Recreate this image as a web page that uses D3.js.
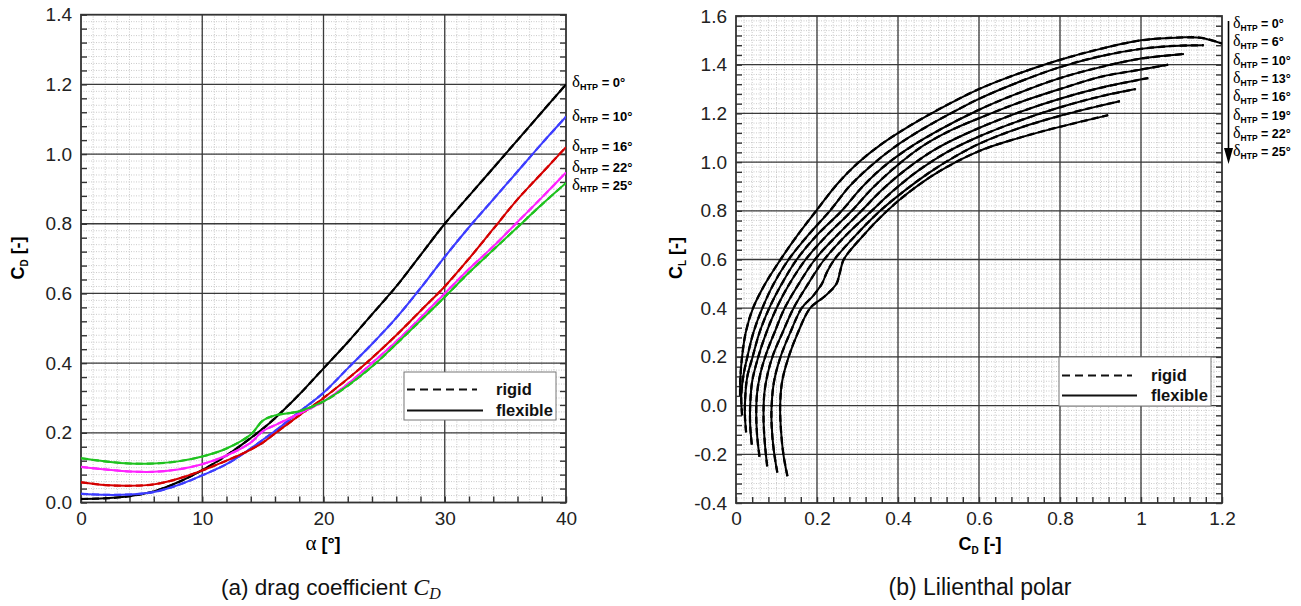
<!DOCTYPE html>
<html>
<head>
<meta charset="utf-8">
<script src="https://cdn.jsdelivr.net/npm/d3@7"></script>
<style>
body { margin: 0; background: #fff; }
svg { font-family: "Liberation Sans", Arial, sans-serif; }
</style>
</head>
<body>
<script>
// ---- data: (a) drag coefficient vs angle of attack ----
const alphaDeg = [0, 2, 4, 6, 8, 10, 12, 14, 15, 16, 18, 20, 22, 24, 26, 28, 30, 32, 34, 36, 38, 40];
const cdDelta0  = [0.010, 0.012, 0.018, 0.032, 0.058, 0.093, 0.135, 0.185, 0.212, 0.242, 0.310, 0.385, 0.460, 0.540, 0.620, 0.710, 0.800, 0.880, 0.960, 1.040, 1.120, 1.200];
const cdDelta10 = [0.025, 0.022, 0.023, 0.030, 0.050, 0.078, 0.110, 0.155, 0.180, 0.205, 0.260, 0.315, 0.385, 0.455, 0.530, 0.615, 0.705, 0.790, 0.870, 0.950, 1.030, 1.107];
const cdDelta16 = [0.058, 0.050, 0.048, 0.052, 0.068, 0.092, 0.120, 0.152, 0.172, 0.198, 0.250, 0.300, 0.355, 0.415, 0.480, 0.550, 0.620, 0.700, 0.785, 0.870, 0.945, 1.020];
const cdDelta22 = [0.102, 0.095, 0.089, 0.088, 0.095, 0.110, 0.135, 0.172, 0.205, 0.222, 0.255, 0.290, 0.340, 0.400, 0.462, 0.530, 0.600, 0.670, 0.735, 0.805, 0.875, 0.947];
const cdDelta25 = [0.127, 0.118, 0.112, 0.112, 0.118, 0.132, 0.155, 0.195, 0.235, 0.250, 0.262, 0.290, 0.335, 0.390, 0.455, 0.522, 0.590, 0.660, 0.725, 0.790, 0.855, 0.917];
const dragLabels = ['0°', '10°', '16°', '22°', '25°'];
const dragColors = ['#000000', '#3d3dff', '#d40000', '#ff22ff', '#1fc21f'];

// ---- data: (b) Lilienthal polar, [CD, CL] ----
const polar0  = [[0.010,0.04],[0.011,0.12],[0.015,0.20],[0.024,0.30],[0.042,0.40],[0.072,0.50],[0.110,0.60],[0.152,0.70],[0.198,0.80],[0.250,0.91],[0.300,0.995],[0.360,1.075],[0.430,1.15],[0.510,1.225],[0.600,1.30],[0.700,1.365],[0.800,1.42],[0.900,1.465],[1.000,1.50],[1.100,1.512],[1.150,1.51],[1.200,1.487]];
const polar6  = [[0.015,-0.04],[0.013,0.04],[0.018,0.12],[0.028,0.20],[0.043,0.30],[0.065,0.40],[0.093,0.50],[0.130,0.60],[0.178,0.70],[0.232,0.80],[0.280,0.90],[0.330,0.98],[0.390,1.06],[0.460,1.135],[0.530,1.20],[0.600,1.26],[0.700,1.33],[0.800,1.39],[0.900,1.435],[1.000,1.465],[1.080,1.477],[1.155,1.48]];
const polar10 = [[0.025,-0.11],[0.022,-0.04],[0.023,0.04],[0.028,0.12],[0.041,0.20],[0.058,0.30],[0.082,0.40],[0.113,0.50],[0.150,0.60],[0.200,0.70],[0.261,0.80],[0.310,0.895],[0.360,0.975],[0.420,1.05],[0.500,1.13],[0.600,1.215],[0.700,1.285],[0.800,1.345],[0.900,1.39],[1.000,1.425],[1.106,1.444]];
const polar13 = [[0.039,-0.16],[0.035,-0.08],[0.035,0.00],[0.040,0.10],[0.055,0.20],[0.075,0.30],[0.100,0.40],[0.132,0.50],[0.172,0.60],[0.225,0.70],[0.286,0.80],[0.335,0.89],[0.390,0.975],[0.460,1.065],[0.530,1.13],[0.600,1.18],[0.700,1.245],[0.800,1.30],[0.900,1.35],[1.000,1.38],[1.067,1.40]];
const polar16 = [[0.058,-0.21],[0.052,-0.12],[0.050,-0.03],[0.052,0.05],[0.060,0.13],[0.074,0.21],[0.095,0.30],[0.120,0.40],[0.155,0.50],[0.195,0.60],[0.250,0.70],[0.310,0.80],[0.360,0.885],[0.420,0.97],[0.500,1.06],[0.600,1.14],[0.700,1.205],[0.800,1.26],[0.900,1.305],[1.018,1.345]];
const polar19 = [[0.077,-0.25],[0.071,-0.15],[0.068,-0.05],[0.070,0.05],[0.078,0.13],[0.092,0.21],[0.115,0.30],[0.142,0.40],[0.178,0.50],[0.218,0.60],[0.272,0.70],[0.335,0.80],[0.390,0.885],[0.450,0.965],[0.520,1.04],[0.600,1.105],[0.700,1.17],[0.800,1.225],[0.900,1.27],[0.987,1.30]];
const polar22 = [[0.102,-0.275],[0.093,-0.18],[0.088,-0.08],[0.088,0.00],[0.094,0.10],[0.110,0.20],[0.134,0.30],[0.162,0.40],[0.190,0.45],[0.212,0.50],[0.225,0.55],[0.243,0.60],[0.296,0.70],[0.356,0.80],[0.418,0.885],[0.480,0.96],[0.540,1.022],[0.600,1.075],[0.700,1.14],[0.800,1.19],[0.900,1.232],[0.948,1.25]];
const polar25 = [[0.127,-0.29],[0.117,-0.20],[0.111,-0.10],[0.109,0.00],[0.114,0.10],[0.130,0.20],[0.153,0.30],[0.183,0.40],[0.220,0.45],[0.248,0.50],[0.257,0.55],[0.266,0.60],[0.315,0.70],[0.370,0.795],[0.430,0.88],[0.500,0.96],[0.600,1.045],[0.700,1.10],[0.800,1.145],[0.919,1.193]];
const polarLabels = ['0°', '6°', '10°', '13°', '16°', '19°', '22°', '25°'];
const legendItems = ['rigid', 'flexible'];

const svg = d3.select('body').append('svg').attr('width', 1301).attr('height', 606);

// Draws grid, frame, inward ticks and tick labels of one panel
function drawFrame(x, y, o) {
    let g = svg.append('g');
    let [x0, x1] = x.range(), [y0, y1] = y.range();

    // fine dotted grid
    g.selectAll('.vmin').data(o.xMinor).enter().append('line')
        .attr('x1', d => x(d)).attr('x2', d => x(d)).attr('y1', y0).attr('y2', y1)
        .attr('stroke', '#bdbdbd').attr('stroke-width', 0.8).attr('stroke-dasharray', '1,1.5');
    g.selectAll('.hmin').data(o.yMinor).enter().append('line')
        .attr('y1', d => y(d)).attr('y2', d => y(d)).attr('x1', x0).attr('x2', x1)
        .attr('stroke', '#bdbdbd').attr('stroke-width', 0.8).attr('stroke-dasharray', '1,1.5');

    // major grid
    g.selectAll('.vmaj').data(o.xMajor).enter().append('line')
        .attr('x1', d => x(d)).attr('x2', d => x(d)).attr('y1', y0).attr('y2', y1)
        .attr('stroke', '#3a3a3a').attr('stroke-width', 1.3);
    g.selectAll('.hmaj').data(o.yMajor).enter().append('line')
        .attr('y1', d => y(d)).attr('y2', d => y(d)).attr('x1', x0).attr('x2', x1)
        .attr('stroke', '#3a3a3a').attr('stroke-width', 1.3);

    // inward ticks on bottom, left and right
    g.append('g').attr('transform', `translate(0, ${y0})`)
        .call(d3.axisBottom(x).tickValues(o.xTicks).tickSize(-6).tickFormat(''))
        .call(a => a.select('.domain').remove())
        .selectAll('line').attr('stroke', '#333').attr('stroke-width', 1.4);
    g.append('g').attr('transform', `translate(${x0}, 0)`)
        .call(d3.axisLeft(y).tickValues(o.yTicks).tickSize(-6).tickFormat(''))
        .call(a => a.select('.domain').remove())
        .selectAll('line').attr('stroke', '#333').attr('stroke-width', 1.4);
    g.append('g').attr('transform', `translate(${x1}, 0)`)
        .call(d3.axisRight(y).tickValues(o.yTicks).tickSize(-6).tickFormat(''))
        .call(a => a.select('.domain').remove())
        .selectAll('line').attr('stroke', '#333').attr('stroke-width', 1.4);

    // frame
    g.append('rect').attr('x', x0).attr('y', y1).attr('width', x1 - x0).attr('height', y0 - y1)
        .attr('fill', 'none').attr('stroke', '#333').attr('stroke-width', 1.8);

    // tick labels
    let xl = g.append('g').attr('transform', `translate(0, ${y0})`)
        .call(d3.axisBottom(x).tickValues(o.xMajorLabels).tickSize(0).tickPadding(9).tickFormat(o.xFormat));
    let yl = g.append('g').attr('transform', `translate(${x0}, 0)`)
        .call(d3.axisLeft(y).tickValues(o.yMajorLabels).tickSize(0).tickPadding(9).tickFormat(o.yFormat));
    [xl, yl].forEach(a => {
        a.select('.domain').remove();
        a.selectAll('text').attr('font-size', 19).attr('fill', '#222').attr('font-family', '"Liberation Sans", Arial, sans-serif');
    });
    return g;
}

function stepRange(a, b, n) {
    return d3.range(Math.round(a * n), Math.round(b * n) + 1).map(i => i / n);
}

// ---------- panel (a) ----------
let xA = d3.scaleLinear().domain([0, 40]).range([81, 566]);
let yA = d3.scaleLinear().domain([0, 1.4]).range([502.5, 14.7]);

drawFrame(xA, yA, {
    xMinor: d3.range(0, 41, 1), yMinor: stepRange(0, 1.4, 50),
    xMajor: [10, 20, 30], yMajor: [0.2, 0.4, 0.6, 0.8, 1.0, 1.2],
    xTicks: d3.range(0, 41, 2), yTicks: stepRange(0, 1.4, 25),
    xMajorLabels: [0, 10, 20, 30, 40], yMajorLabels: stepRange(0, 1.4, 5),
    xFormat: d3.format('d'), yFormat: d => d.toFixed(1)
});

svg.append('clipPath').attr('id', 'clipA').append('rect')
    .attr('x', 81).attr('y', 14.7).attr('width', 485).attr('height', 487.8);
svg.append('clipPath').attr('id', 'clipB').append('rect')
    .attr('x', 736).attr('y', 16).attr('width', 486).attr('height', 487);

let dragSeries = [cdDelta0, cdDelta10, cdDelta16, cdDelta22, cdDelta25];
let lineA = d3.line().x((d, i) => xA(alphaDeg[i])).y(d => yA(d)).curve(d3.curveCatmullRom.alpha(0.5));
let curvesA = svg.append('g').attr('clip-path', 'url(#clipA)');
dragSeries.forEach((s, k) => {
    curvesA.append('path').attr('d', lineA(s)).attr('fill', 'none')
        .attr('stroke', dragColors[k]).attr('stroke-width', 2);
    curvesA.append('path').attr('d', lineA(s)).attr('fill', 'none')
        .attr('stroke', dragColors[k]).attr('stroke-width', 2.2).attr('stroke-dasharray', '7,4');
});

// delta labels on the right of panel (a)
let nudgeA = [-1, 0, 0, -5, 3];
dragSeries.forEach((s, k) => {
    let t = svg.append('text').attr('x', 572).attr('y', yA(s[s.length - 1]) + 4 + nudgeA[k]);
    t.append('tspan').text('δ').attr('font-family', '"Liberation Serif", "DejaVu Serif", serif').attr('font-size', 17);
    t.append('tspan').text('HTP').attr('font-size', 9).attr('font-weight', 'bold').attr('dy', 2.5);
    t.append('tspan').text(' = ' + dragLabels[k]).attr('font-size', 13).attr('font-weight', 'bold').attr('dy', -2.5);
});

// axis titles (a)
let ta = svg.append('text').attr('transform', 'translate(24, 258) rotate(-90)')
    .attr('text-anchor', 'middle').attr('font-weight', 'bold').attr('font-size', 18);
ta.append('tspan').text('C');
ta.append('tspan').text('D').attr('font-size', 10).attr('dy', 4);
ta.append('tspan').text(' [-]').attr('dy', -4);

let xa = svg.append('text').attr('x', 323).attr('y', 550).attr('text-anchor', 'middle');
xa.append('tspan').text('α').attr('font-family', '"Liberation Serif", "DejaVu Serif", serif').attr('font-size', 21);
xa.append('tspan').text(' [°]').attr('font-weight', 'bold').attr('font-size', 18);

// legend box with rigid / flexible line styles
function drawLegend(bx, by, bw, bh, lx0, lx1, tx, rows) {
    svg.append('rect').attr('x', bx).attr('y', by).attr('width', bw).attr('height', bh)
        .attr('fill', '#fff').attr('stroke', '#777').attr('stroke-width', 1);
    legendItems.forEach((name, i) => {
        svg.append('line').attr('x1', lx0).attr('x2', lx1[i]).attr('y1', rows[i]).attr('y2', rows[i])
            .attr('stroke', '#111').attr('stroke-width', 2)
            .attr('stroke-dasharray', i === 0 ? '8,5' : null);
        svg.append('text').attr('x', tx).attr('y', rows[i] + 5).text(name)
            .attr('font-weight', 'bold').attr('font-size', 16.5).attr('fill', '#111');
    });
}
drawLegend(404, 372, 152, 48, 407, [477, 483], 496, [389.5, 410.5]);

// ---------- panel (b) ----------
let xB = d3.scaleLinear().domain([0, 1.2]).range([736, 1222]);
let yB = d3.scaleLinear().domain([-0.4, 1.6]).range([503, 16]);

drawFrame(xB, yB, {
    xMinor: stepRange(0, 1.2, 50), yMinor: stepRange(-0.4, 1.6, 50),
    xMajor: [0.2, 0.4, 0.6, 0.8, 1.0], yMajor: stepRange(-0.2, 1.4, 5),
    xTicks: stepRange(0, 1.2, 25), yTicks: stepRange(-0.4, 1.6, 25),
    xMajorLabels: stepRange(0, 1.2, 5), yMajorLabels: stepRange(-0.4, 1.6, 5),
    xFormat: d3.format('~g'), yFormat: d => d.toFixed(1)
});

let polars = [polar0, polar6, polar10, polar13, polar16, polar19, polar22, polar25];
let lineB = d3.line().x(d => xB(d[0])).y(d => yB(d[1])).curve(d3.curveCatmullRom.alpha(0.5));
let curvesB = svg.append('g').attr('clip-path', 'url(#clipB)');
polars.forEach(p => {
    curvesB.append('path').attr('d', lineB(p)).attr('fill', 'none')
        .attr('stroke', '#000').attr('stroke-width', 2);
    curvesB.append('path').attr('d', lineB(p)).attr('fill', 'none')
        .attr('stroke', '#000').attr('stroke-width', 2.3).attr('stroke-dasharray', '7,4');
});

// delta labels with arrow (b)
polarLabels.forEach((lab, k) => {
    let t = svg.append('text').attr('x', 1233).attr('y', 28 + k * 18.3);
    t.append('tspan').text('δ').attr('font-family', '"Liberation Serif", "DejaVu Serif", serif').attr('font-size', 16);
    t.append('tspan').text('HTP').attr('font-size', 8.5).attr('font-weight', 'bold').attr('dy', 3);
    t.append('tspan').text(' = ' + lab).attr('font-size', 12.5).attr('font-weight', 'bold').attr('dy', -3);
});
svg.append('line').attr('x1', 1228.5).attr('x2', 1228.5).attr('y1', 21).attr('y2', 150)
    .attr('stroke', '#000').attr('stroke-width', 1.6);
svg.append('path').attr('d', 'M1224,148 L1233,148 L1228.5,164 Z').attr('fill', '#000');

// axis titles (b)
let tb = svg.append('text').attr('transform', 'translate(682, 258) rotate(-90)')
    .attr('text-anchor', 'middle').attr('font-weight', 'bold').attr('font-size', 18);
tb.append('tspan').text('C');
tb.append('tspan').text('L').attr('font-size', 10).attr('dy', 4);
tb.append('tspan').text(' [-]').attr('dy', -4);

let xb = svg.append('text').attr('x', 980).attr('y', 550).attr('text-anchor', 'middle')
    .attr('font-weight', 'bold').attr('font-size', 18);
xb.append('tspan').text('C');
xb.append('tspan').text('D').attr('font-size', 10).attr('dy', 4);
xb.append('tspan').text(' [-]').attr('dy', -4);

drawLegend(1059, 357, 152, 49, 1062, [1132, 1137], 1151, [375.5, 395.5]);

// ---------- captions ----------
let capA = svg.append('text').attr('x', 331).attr('y', 595).attr('text-anchor', 'middle')
    .attr('font-size', 22.5).attr('fill', '#111');
capA.append('tspan').text('(a) drag coefficient ');
capA.append('tspan').text('C').attr('font-family', '"Liberation Serif", serif').attr('font-style', 'italic').attr('font-size', 24);
capA.append('tspan').text('D').attr('font-family', '"Liberation Serif", serif').attr('font-style', 'italic').attr('font-size', 16).attr('dy', 4);

svg.append('text').attr('x', 980).attr('y', 595).attr('text-anchor', 'middle')
    .attr('font-size', 23).attr('fill', '#111').text('(b) Lilienthal polar');
</script>
</body>
</html>
